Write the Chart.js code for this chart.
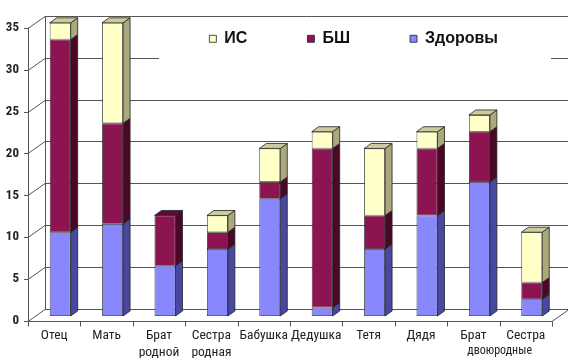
<!DOCTYPE html>
<html>
<head>
<meta charset="utf-8">
<script src="https://cdn.jsdelivr.net/npm/chart.js@4.4.0/dist/chart.umd.min.js"></script>
<style>
  html, body { margin: 0; padding: 0; background: #fff; }
</style>
</head>
<body>
<canvas id="myChart" width="568" height="358"></canvas>
<script>
  // данные
  const categories = ['Отец', 'Мать', ['Брат', 'родной'], ['Сестра', 'родная'], 'Бабушка', 'Дедушка', 'Тетя', 'Дядя', 'Брат', 'Сестра'];
  const zdorovy = [10, 11, 6, 8, 14, 1, 8, 12, 16, 2];
  const bsh = [23, 12, 6, 2, 2, 19, 4, 8, 6, 2];
  const is = [2, 12, 0, 2, 4, 2, 8, 2, 2, 6];
  const yTickValues = [0, 5, 10, 15, 20, 25, 30, 35];
  const subLabel = 'двоюродные';

  const frontColors = ['#8888fc', '#8c1450', '#ffffc8'];
  const sideColors = ['#4848a0', '#4a0826', '#a9a97c'];
  const topColors = ['#6a6ad0', '#5e0c34', '#cbcb9c'];

  const narrow = '"Roboto Condensed", "Liberation Sans", sans-serif';

  const depth = { x: 7, y: 5 };   // боковая грань столбика
  const wall = { x: 11, y: 7 };   // задняя стенка от плоскости столбиков
  const front = { x: 6, y: 5 };   // передний край

  function line(ctx, x1, y1, x2, y2) {
    ctx.beginPath();
    ctx.moveTo(x1, y1);
    ctx.lineTo(x2, y2);
    ctx.stroke();
  }

  function poly(ctx, pts, fill) {
    ctx.beginPath();
    ctx.moveTo(pts[0][0], pts[0][1]);
    for (let k = 1; k < pts.length; k++) ctx.lineTo(pts[k][0], pts[k][1]);
    ctx.closePath();
    ctx.fillStyle = fill;
    ctx.fill();
    ctx.stroke();
  }

  // рамка "3D": задняя стенка, пол, оси
  const frame3d = {
    id: 'frame3d',
    beforeLayout(chart) {
      // легенда не должна отнимать место у графика
      const lg = chart.legend;
      if (lg && !lg._patched) {
        const fit = lg.fit;
        lg.fit = function () { fit.call(this); this._realHeight = this.height; this.height = 0; };
        lg._patched = true;
      }
    },
    afterLayout(chart) {
      const lg = chart.legend;
      const pad = chart.options.plugins.legend.labels.padding;
      lg.height = lg._realHeight;
      lg.top = chart.chartArea.top + 8 - pad;
      lg.bottom = lg.top + lg.height;
    },
    beforeDraw(chart) {
      const { ctx, chartArea: a, scales: { x, y } } = chart;
      ctx.save();
      ctx.strokeStyle = '#555';
      ctx.lineWidth = 1;
      const fl = a.left - front.x, bl = a.left + wall.x;
      const fr = a.right - front.x, br = chart.width;
      const y0 = y.getPixelForValue(0), yMax = y.getPixelForValue(35);
      yTickValues.forEach(v => {
        const py = Math.round(y.getPixelForValue(v)) + 0.5;
        line(ctx, fl, py + front.y, bl, py - wall.y);
        line(ctx, bl, py - wall.y, br, py - wall.y);
        line(ctx, fl - 4, py + front.y, fl, py + front.y);
      });
      line(ctx, fl + 0.5, y0 + front.y, fl + 0.5, yMax + front.y);
      line(ctx, bl + 0.5, y0 - wall.y, bl + 0.5, yMax - wall.y);
      const fy = Math.round(y0) + front.y + 0.5;
      line(ctx, fl, fy, fr, fy);
      line(ctx, fr, fy, fr + front.x + wall.x, fy - front.y - wall.y);
      for (let i = 0; i <= categories.length; i++) {
        const px = Math.round(x.getPixelForValue(i - 0.5) - front.x) + 0.5;
        line(ctx, px, fy, px, fy + 5);
      }
      // фон легенды
      ctx.fillStyle = '#fff';
      ctx.fillRect(a.left + 125, a.top + 2, a.right - a.left - 132, 44);
      ctx.restore();
    },
    afterDatasetsDraw(chart) {
      const ctx = chart.ctx;
      ctx.save();
      ctx.strokeStyle = '#222';
      ctx.lineWidth = 0.8;
      const sets = chart.data.datasets;
      for (let i = 0; i < categories.length; i++) {
        let topDs = -1;
        sets.forEach((ds, d) => { if (ds.data[i] > 0) topDs = d; });
        sets.forEach((ds, d) => {
          if (!(ds.data[i] > 0)) return;
          const el = chart.getDatasetMeta(d).data[i];
          const p = el.getProps(['x', 'y', 'base', 'width'], true);
          const l = p.x - p.width / 2, r = p.x + p.width / 2;
          poly(ctx, [[r, p.y], [r + depth.x, p.y - depth.y], [r + depth.x, p.base - depth.y], [r, p.base]], sideColors[d]);
          if (d === topDs) {
            poly(ctx, [[l, p.y], [l + depth.x, p.y - depth.y], [r + depth.x, p.y - depth.y], [r, p.y]], topColors[d]);
          }
        });
      }
      // подпись "двоюродные" под двумя последними категориями
      const x = chart.scales.x;
      const cx = (x.getPixelForValue(8) + x.getPixelForValue(9)) / 2 - front.x;
      ctx.fillStyle = '#222';
      ctx.font = '12px ' + narrow;
      ctx.textAlign = 'center';
      ctx.textBaseline = 'middle';
      ctx.fillText(subLabel, cx, 351);
      ctx.restore();
    }
  };

  const ctx = document.getElementById('myChart').getContext('2d');
  const myChart = new Chart(ctx, {
    type: 'bar',
    data: {
      labels: categories,
      datasets: [
        { label: 'Здоровы', data: zdorovy, backgroundColor: frontColors[0] },
        { label: 'БШ', data: bsh, backgroundColor: frontColors[1] },
        { label: 'ИС', data: is, backgroundColor: frontColors[2] }
      ].map(ds => Object.assign(ds, {
        borderColor: '#222',
        borderWidth: 0.8,
        borderSkipped: false,
        barPercentage: 0.4,
        categoryPercentage: 1
      }))
    },
    options: {
      responsive: false,
      animation: false,
      layout: { padding: { top: 18, right: 10, left: 0, bottom: 0 } },
      scales: {
        x: {
          stacked: true,
          grid: { display: false, drawTicks: false, tickLength: 0 },
          border: { display: false },
          ticks: {
            color: '#222',
            font: { family: narrow, size: 13.5, lineHeight: 1.25 },
            padding: 11,
            labelOffset: -front.x,
            maxRotation: 0,
            autoSkip: false
          },
          afterFit(scale) { scale.height = 42; }
        },
        y: {
          stacked: true,
          min: 0,
          max: 35,
          grid: { display: false, drawTicks: false, tickLength: 0 },
          border: { display: false },
          ticks: {
            stepSize: 5,
            color: '#222',
            font: { family: narrow, size: 13, weight: 'bold' },
            padding: 15,
            labelOffset: front.y
          },
          afterFit(scale) { scale.width = 34; }
        }
      },
      plugins: {
        legend: {
          position: 'top',
          align: 'end',
          reverse: true,
          labels: {
            boxWidth: 7,
            boxHeight: 7,
            padding: 60,
            color: '#111',
            font: { family: '"Liberation Sans", Arial, sans-serif', size: 16, weight: 'bold' }
          }
        },
        tooltip: { enabled: false }
      }
    },
    plugins: [frame3d]
  });
</script>
</body>
</html>
